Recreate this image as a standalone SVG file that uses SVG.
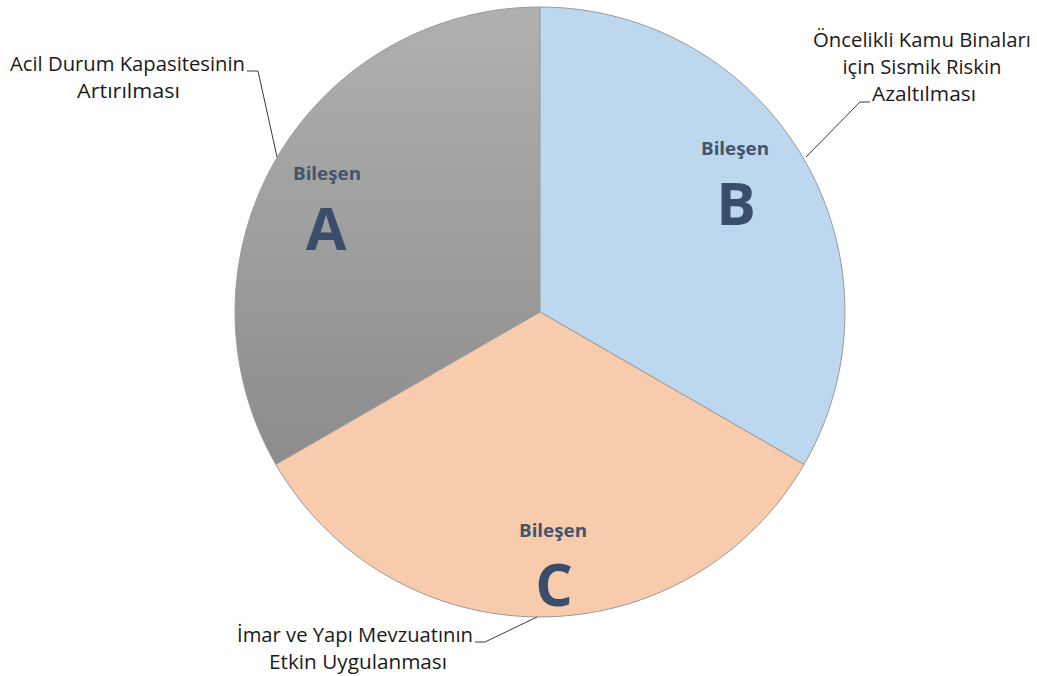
<svg xmlns="http://www.w3.org/2000/svg" width="1037" height="676" viewBox="0 0 1037 676">
<style>
.lbl{font-family:"Open Sans","Noto Sans","Liberation Sans",sans-serif;font-size:19.5px;fill:#1a1a1a;text-anchor:middle}
.bil{font-family:"Open Sans","Noto Sans","Liberation Sans",sans-serif;font-size:17px;font-weight:bold;fill:#44546a;text-anchor:middle}
.big{font-family:"Open Sans","Noto Sans","Liberation Sans",sans-serif;font-size:59px;font-weight:bold;fill:#3a4d6a;text-anchor:middle}
.lead{fill:none;stroke:#3a3a3a;stroke-width:1}
.edge{stroke:#9a9a9a;stroke-width:1}
</style>
<defs>
<linearGradient id="gA" x1="0" y1="0" x2="0" y2="1">
<stop offset="0" stop-color="#b0b0b0"/>
<stop offset="1" stop-color="#8c8c8c"/>
</linearGradient>
</defs>
<rect width="1037" height="676" fill="#ffffff"/>
<g id="sliceA">
<path d="M540,312 L540,7 A305,305 0 0,0 275.9,464.5 Z" fill="url(#gA)" class="edge"/>
<text class="bil" x="327" y="180" textLength="68" lengthAdjust="spacingAndGlyphs">Bileşen</text>
<text class="big" x="326" y="250">A</text>
</g>
<g id="sliceB">
<path d="M540,312 L540,7 A305,305 0 0,1 804.1,464.5 Z" fill="#bdd7ee" class="edge"/>
<text class="bil" x="735" y="155" textLength="68" lengthAdjust="spacingAndGlyphs">Bileşen</text>
<text class="big" x="736" y="225">B</text>
</g>
<g id="sliceC">
<path d="M540,312 L804.1,464.5 A305,305 0 0,1 275.9,464.5 Z" fill="#f8cbad" class="edge"/>
<text class="bil" x="553" y="537" textLength="68" lengthAdjust="spacingAndGlyphs">Bileşen</text>
<text class="big" x="554" y="606">C</text>
</g>
<g id="labelA">
<text class="lbl" x="127.5" y="71" textLength="235" lengthAdjust="spacingAndGlyphs">Acil Durum Kapasitesinin</text>
<text class="lbl" x="128.5" y="98" textLength="103" lengthAdjust="spacingAndGlyphs">Artırılması</text>
</g>
<g id="labelB">
<text class="lbl" x="922" y="47" textLength="218" lengthAdjust="spacingAndGlyphs">Öncelikli Kamu Binaları</text>
<text class="lbl" x="922" y="74" textLength="159" lengthAdjust="spacingAndGlyphs">için Sismik Riskin</text>
<text class="lbl" x="924" y="101" textLength="104" lengthAdjust="spacingAndGlyphs">Azaltılması</text>
</g>
<g id="labelC">
<text class="lbl" x="355" y="642" textLength="236" lengthAdjust="spacingAndGlyphs">İmar ve Yapı Mevzuatının</text>
<text class="lbl" x="358" y="669" textLength="178" lengthAdjust="spacingAndGlyphs">Etkin Uygulanması</text>
</g>
<g id="connectors">
<polyline class="lead" points="247,71 258,71 277,157"/>
<polyline class="lead" points="870,102 860,102 806,157"/>
<polyline class="lead" points="475,642 485,642 537,617"/>
</g>
</svg>
